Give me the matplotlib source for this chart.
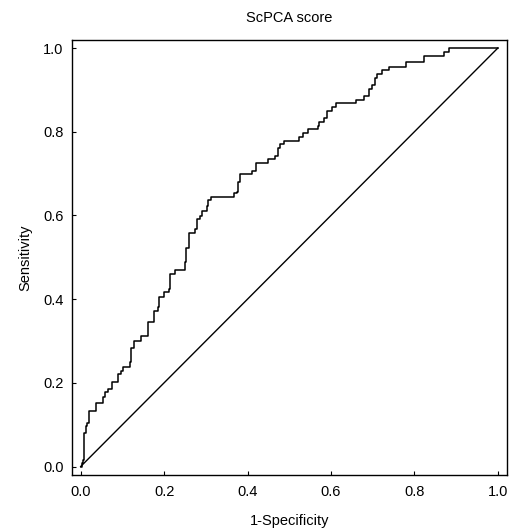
import matplotlib
matplotlib.use("Agg")
import matplotlib.pyplot as plt
import numpy as np

# ROC curve points (1-specificity, sensitivity)
fpr = [0.0, 0.003, 0.005, 0.008, 0.012, 0.016, 0.020, 0.037, 0.054, 0.058,
       0.065, 0.076, 0.090, 0.097, 0.102, 0.118, 0.121, 0.128, 0.145, 0.162,
       0.177, 0.185, 0.189, 0.199, 0.211, 0.213, 0.226, 0.249, 0.252, 0.259,
       0.274, 0.278, 0.285, 0.290, 0.302, 0.305, 0.312, 0.368, 0.374, 0.378,
       0.382, 0.410, 0.420, 0.448, 0.466, 0.474, 0.478, 0.488, 0.524, 0.532,
       0.544, 0.568, 0.572, 0.584, 0.590, 0.602, 0.612, 0.660, 0.680, 0.692,
       0.699, 0.706, 0.710, 0.722, 0.740, 0.779, 0.822, 0.871, 0.882, 1.0]
tpr = [0.0, 0.008, 0.016, 0.080, 0.096, 0.105, 0.133, 0.151, 0.167, 0.177,
       0.186, 0.203, 0.222, 0.229, 0.237, 0.249, 0.283, 0.301, 0.311, 0.345,
       0.371, 0.381, 0.406, 0.416, 0.425, 0.460, 0.470, 0.488, 0.522, 0.558,
       0.567, 0.591, 0.599, 0.610, 0.622, 0.636, 0.645, 0.653, 0.657, 0.680,
       0.699, 0.707, 0.725, 0.735, 0.743, 0.761, 0.771, 0.779, 0.787, 0.797,
       0.806, 0.814, 0.823, 0.833, 0.850, 0.859, 0.869, 0.876, 0.886, 0.902,
       0.912, 0.928, 0.938, 0.947, 0.956, 0.966, 0.982, 0.990, 1.0, 1.0]
ticks = [0.0, 0.2, 0.4, 0.6, 0.8, 1.0]

plt.rcParams['font.family'] = ['Liberation Sans', 'DejaVu Sans']

fig = plt.figure(figsize=(5.1, 5.3), dpi=100)
ax = fig.add_axes([0.141, 0.104, 0.853, 0.821])

ax.plot(fpr, tpr, color="black", lw=1.1, drawstyle="steps-post")
ax.plot([0, 1], [0, 1], color="black", lw=1.0)

ax.set_xlim(-0.021, 1.022)
ax.set_ylim(-0.020, 1.020)
ax.set_xticks(ticks)
ax.set_yticks(ticks)
ax.set_xticklabels([f"{t:.1f}" for t in ticks])
ax.set_yticklabels([f"{t:.1f}" for t in ticks])
ax.tick_params(direction="in", length=3, width=0.8, labelsize=10.5, colors="black")
ax.tick_params(axis="x", pad=7)
ax.tick_params(axis="y", pad=6)
for s in ax.spines.values():
    s.set_linewidth(1.0)

ax.set_xlabel("1-Specificity", fontsize=10.5, labelpad=11)
ax.set_ylabel("Sensitivity", fontsize=10.5, labelpad=8)
ax.set_title("ScPCA score", fontsize=10.5, pad=13)

fig.savefig("out.png", dpi=100)
